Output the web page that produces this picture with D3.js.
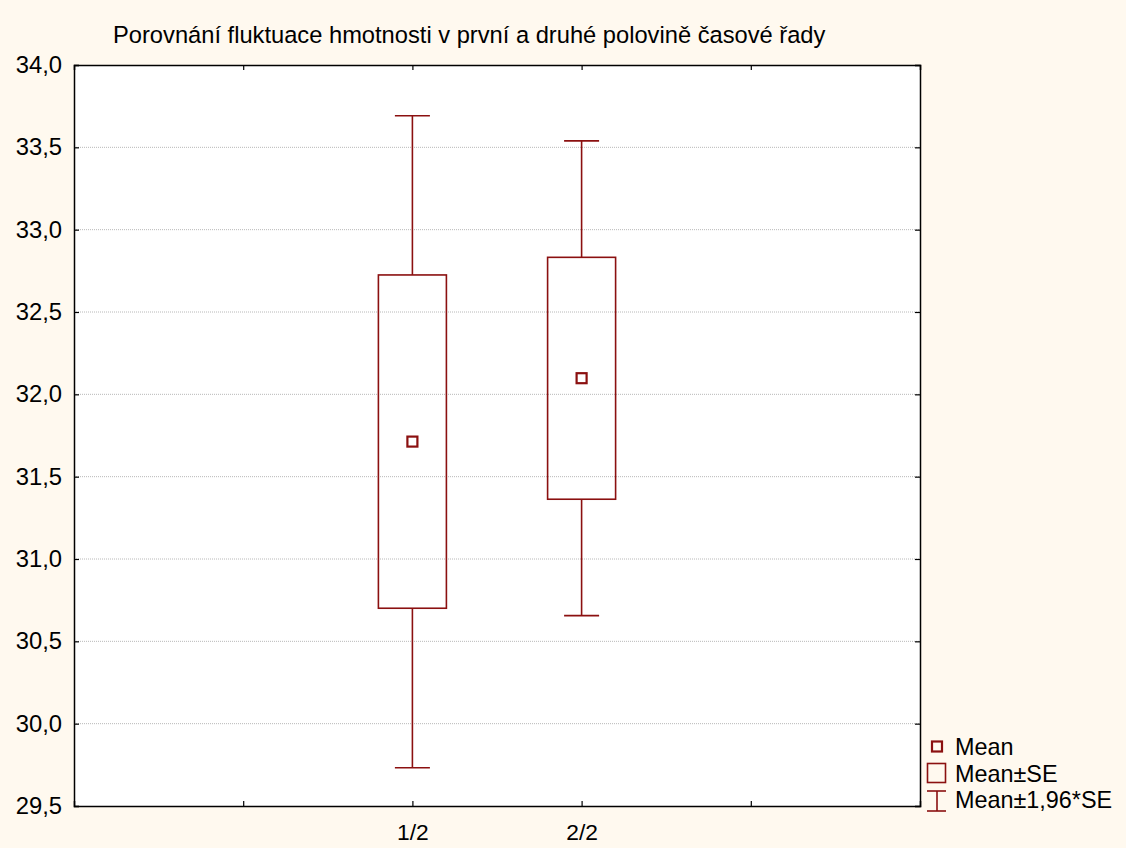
<!DOCTYPE html>
<html>
<head>
<meta charset="utf-8">
<script src="https://cdn.jsdelivr.net/npm/d3@7"></script>
<style>
  html, body { margin: 0; padding: 0; background: #FFF9EF; }
  svg { display: block; font-family: "Liberation Sans", Arial, sans-serif; }
</style>
</head>
<body>
<svg id="chart" width="1126" height="848"></svg>
<script>
// ---- data ----
const title = "Porovnání fluktuace hmotnosti v první a druhé polovině časové řady";
const categories = ["1/2", "2/2"];
const means  = [31.713, 32.098];
const seLow  = [30.701, 31.363];
const seHigh = [32.725, 32.832];
const ciLow  = [29.732, 30.656];
const ciHigh = [33.692, 33.539];
const yTicks = [29.5, 30.0, 30.5, 31.0, 31.5, 32.0, 32.5, 33.0, 33.5, 34.0];
const legendLabels = ["Mean", "Mean±SE", "Mean±1,96*SE"];

// ---- layout ----
const W = 1126, H = 848;
const mLeft = 74, mRight = 920, mTop = 65, mBottom = 806;
const color = "#8B1010";

const svg = d3.select("#chart");
svg.append("rect").attr("width", W).attr("height", H).attr("fill", "#FFF9EF");

// x: slots 0..5, categories at slots 2 and 3
const x = d3.scaleLinear().domain([0, 5]).range([mLeft, mRight]);
const catPos = categories.map((c, i) => i + 2);
const y = d3.scaleLinear().domain([29.5, 34.0]).range([mBottom, mTop]);

// plot background
svg.append("rect").attr("x", mLeft).attr("y", mTop)
  .attr("width", mRight - mLeft).attr("height", mBottom - mTop).attr("fill", "#ffffff");

// gridlines
svg.append("g").selectAll("line").data(yTicks.filter(v => v > 29.5 && v < 34.0)).join("line")
  .attr("x1", mLeft).attr("x2", mRight)
  .attr("y1", d => y(d)).attr("y2", d => y(d))
  .attr("stroke", "#b8b8b8").attr("stroke-width", 1).attr("stroke-dasharray", "1,1");

const fmt = d => d.toFixed(1).replace(".", ",");
const xTickVals = [1, 2, 3, 4];
const xLabel = v => { const i = catPos.indexOf(v); return i >= 0 ? categories[i] : ""; };

function styleAxis(size) {
  return g => {
    g.select(".domain").attr("stroke", "#000").attr("stroke-width", 1.5);
    g.selectAll(".tick line").attr("stroke", "#000").attr("stroke-width", 1.2);
    g.selectAll("text").attr("fill", "#000").style("font-size", size + "px")
      .style("font-family", "'Liberation Sans', Arial, sans-serif");
  };
}

svg.append("g").attr("transform", `translate(${mLeft},0)`)
  .call(d3.axisLeft(y).tickValues(yTicks).tickFormat(fmt).tickSize(-5).tickPadding(12))
  .call(styleAxis(23.8));
svg.append("g").attr("transform", `translate(${mRight},0)`)
  .call(d3.axisRight(y).tickValues(yTicks).tickFormat("").tickSize(-5))
  .call(styleAxis(23));
svg.append("g").attr("transform", `translate(0,${mBottom})`)
  .call(d3.axisBottom(x).tickValues(xTickVals).tickFormat(xLabel).tickSize(-5).tickPadding(17.5))
  .call(styleAxis(22.8));
svg.append("g").attr("transform", `translate(0,${mTop})`)
  .call(d3.axisTop(x).tickValues(xTickVals).tickFormat("").tickSize(-5))
  .call(styleAxis(23));

// boxes & whiskers
const boxW = 68, capW = 35, markSize = 10;
const g = svg.append("g").attr("fill", "none").attr("stroke", color);
categories.forEach((c, i) => {
  const cx = x(catPos[i]);
  g.append("line").attr("x1", cx).attr("x2", cx).attr("y1", y(ciHigh[i])).attr("y2", y(seHigh[i])).attr("stroke-width", 1.6);
  g.append("line").attr("x1", cx).attr("x2", cx).attr("y1", y(seLow[i])).attr("y2", y(ciLow[i])).attr("stroke-width", 1.6);
  g.append("line").attr("x1", cx - capW / 2).attr("x2", cx + capW / 2).attr("y1", y(ciHigh[i])).attr("y2", y(ciHigh[i])).attr("stroke-width", 1.6);
  g.append("line").attr("x1", cx - capW / 2).attr("x2", cx + capW / 2).attr("y1", y(ciLow[i])).attr("y2", y(ciLow[i])).attr("stroke-width", 1.6);
  g.append("rect").attr("x", cx - boxW / 2).attr("y", y(seHigh[i]))
    .attr("width", boxW).attr("height", y(seLow[i]) - y(seHigh[i])).attr("stroke-width", 1.6);
  g.append("rect").attr("x", cx - markSize / 2).attr("y", y(means[i]) - markSize / 2)
    .attr("width", markSize).attr("height", markSize).attr("stroke-width", 2.2);
});

// title
svg.append("text").attr("x", 113).attr("y", 43).attr("fill", "#000")
  .style("font-size", "23.7px").text(title);

// legend
const lg = svg.append("g");
const lx = 937;
lg.append("rect").attr("x", lx - 5).attr("y", 741.5).attr("width", 10).attr("height", 10)
  .attr("fill", "none").attr("stroke", color).attr("stroke-width", 2.2);
lg.append("rect").attr("x", 927.5).attr("y", 763.5).attr("width", 18).attr("height", 19)
  .attr("fill", "none").attr("stroke", color).attr("stroke-width", 1.6);
lg.append("line").attr("x1", lx).attr("x2", lx).attr("y1", 791).attr("y2", 811).attr("stroke", color).attr("stroke-width", 1.6);
lg.append("line").attr("x1", 927).attr("x2", 946).attr("y1", 791).attr("y2", 791).attr("stroke", color).attr("stroke-width", 1.6);
lg.append("line").attr("x1", 927).attr("x2", 946).attr("y1", 811).attr("y2", 811).attr("stroke", color).attr("stroke-width", 1.6);
lg.selectAll("text").data(legendLabels).join("text")
  .attr("x", 955).attr("y", (d, i) => 755 + i * 26.5)
  .attr("fill", "#000").style("font-size", "23.4px").text(d => d);
</script>
</body>
</html>
